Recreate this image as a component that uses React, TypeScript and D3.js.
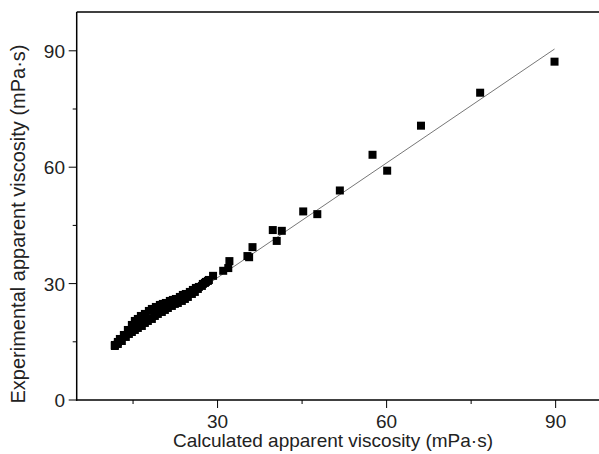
import React from "react";
import * as d3 from "d3";

// calculated (x) vs experimental (y) apparent viscosity, mPa·s
const calcVisc = [
  11.77, 12.3, 12.66, 13.37, 14.08, 14.79, 15.32, 15.85, 16.39, 17.1, 17.81, 18.34, 19.05, 19.76, 20.29,
  20.82, 21.53, 22.07, 22.6, 23.31, 23.84, 24.37, 25.08, 25.62, 26.15, 26.68, 27.39, 27.93, 28.46,
  11.77, 12.3, 13.01, 13.72, 14.26, 14.79, 15.32, 15.85, 16.56, 17.1, 17.63, 18.34, 18.87, 19.4, 20.11,
  20.65, 21.18, 21.89, 22.42, 22.95, 23.66, 24.2, 24.73, 25.44, 25.97, 26.5, 27.22, 27.75, 28.28,
  29.2, 31.0, 31.9, 32.1, 35.3, 35.6, 36.2, 40.5, 39.8, 41.4, 45.2, 47.7, 51.7, 57.5, 60.1, 66.1, 76.6, 89.8,
];
const expVisc = [
  14.18, 14.96, 15.73, 16.76, 18.05, 19.34, 20.37, 20.89, 21.66, 22.18, 22.95, 23.47, 23.98, 24.5, 24.76,
  25.01, 25.53, 25.79, 26.04, 26.56, 27.08, 27.33, 27.85, 28.37, 28.88, 29.14, 29.91, 30.43, 30.94,
  13.92, 14.44, 15.21, 16.25, 17.02, 17.53, 18.05, 18.57, 19.08, 19.86, 20.37, 20.89, 21.66, 22.18, 22.69,
  23.21, 23.72, 24.24, 24.76, 25.01, 25.53, 26.04, 26.56, 27.33, 27.85, 28.62, 29.4, 30.17, 30.69,
  32.0, 33.3, 34.0, 35.8, 37.1, 36.8, 39.4, 41.0, 43.8, 43.6, 48.6, 47.9, 54.0, 63.2, 59.1, 70.7, 79.2, 87.2,
];

// fitted line y = a + b*x
const fitSlope = 0.985;
const fitIntercept = 2.0;

const majorTicks = [0, 30, 60, 90];
const minorTicks = [15, 45, 75];

const W = 599;
const H = 454;
const left = 76.7;
const right = 612;
const top = 12;
const bottom = 400;

const App = () => {
  const x = d3.scaleLinear().domain([5, 100]).range([left, right]);
  const y = d3.scaleLinear().domain([0, 100]).range([bottom, top]);

  const pts = calcVisc.map((c, i) => [c, expVisc[i]]);
  const [x0, x1] = d3.extent(calcVisc) as [number, number];
  const fitLine = d3
    .line<number>()
    .x((d) => x(d))
    .y((d) => y(fitIntercept + fitSlope * d));

  const font = "Arial, 'Liberation Sans', Helvetica, sans-serif";
  const sq = 8;

  return (
    <svg
      width={W}
      height={H}
      style={{ position: "absolute", left: 0, top: 0, background: "#fff" }}
      fontFamily={font}
    >
      {/* fit line */}
      <path d={fitLine([x0, x1]) || ""} fill="none" stroke="#777" strokeWidth={1} />

      {/* points */}
      {pts.map((p, i) => (
        <rect
          key={i}
          x={x(p[0]) - sq / 2}
          y={y(p[1]) - sq / 2}
          width={sq}
          height={sq}
          fill="#000"
        />
      ))}

      {/* frame */}
      <line x1={left} x2={right} y1={top} y2={top} stroke="#000" strokeWidth={1.5} />
      <line x1={right} x2={right} y1={top} y2={bottom} stroke="#000" strokeWidth={1.5} />
      <line x1={left} x2={left} y1={top} y2={bottom + 0.75} stroke="#000" strokeWidth={1.5} />
      <line x1={left - 0.75} x2={right} y1={bottom} y2={bottom} stroke="#000" strokeWidth={1.5} />

      {/* x ticks */}
      {majorTicks
        .filter((t) => t >= 5)
        .map((t) => (
          <g key={"xm" + t}>
            <line x1={x(t)} x2={x(t)} y1={bottom} y2={bottom + 8} stroke="#000" strokeWidth={1} />
            <text x={x(t)} y={428} textAnchor="middle" fontSize={19} fill="#222">
              {t}
            </text>
          </g>
        ))}
      {minorTicks.map((t) => (
        <line key={"xn" + t} x1={x(t)} x2={x(t)} y1={bottom} y2={bottom + 4} stroke="#000" strokeWidth={1} />
      ))}

      {/* y ticks */}
      {majorTicks.map((t) => (
        <g key={"ym" + t}>
          <line x1={left - 8} x2={left} y1={y(t)} y2={y(t)} stroke="#000" strokeWidth={1} />
          <text x={65} y={y(t) + 7} textAnchor="end" fontSize={19} fill="#222">
            {t}
          </text>
        </g>
      ))}
      {minorTicks.map((t) => (
        <line key={"yn" + t} x1={left - 4} x2={left} y1={y(t)} y2={y(t)} stroke="#000" strokeWidth={1} />
      ))}

      {/* axis titles */}
      <text x={333} y={447} textAnchor="middle" fontSize={19} fill="#222">
        Calculated apparent viscosity (mPa·s)
      </text>
      <text
        transform="translate(25,224) rotate(-90)"
        textAnchor="middle"
        fontSize={20}
        fill="#222"
      >
        Experimental apparent viscosity (mPa·s)
      </text>
    </svg>
  );
};

export default App;
